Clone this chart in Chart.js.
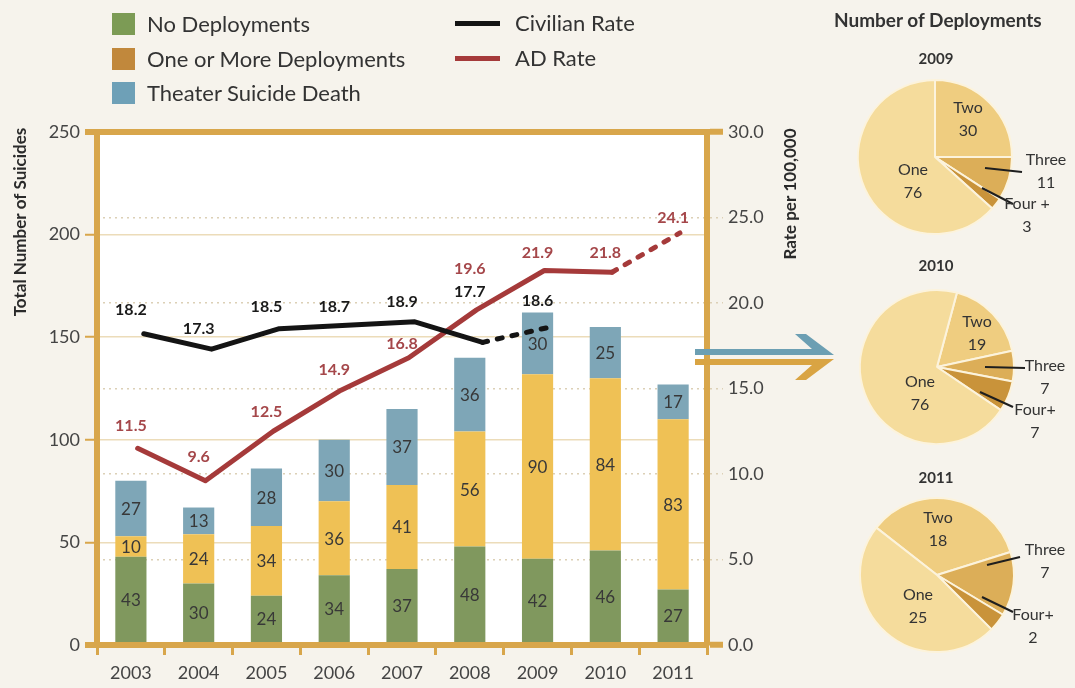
<!DOCTYPE html>
<html>
<head>
<meta charset="utf-8">
<script src="https://cdn.jsdelivr.net/npm/chart.js@4"></script>
<style>
  body { margin: 0; background: #f6f3ec; font-family: Lato, "Noto Sans", sans-serif; }
  #wrap { position: relative; width: 1075px; height: 688px; overflow: hidden; }
  #main { position: absolute; left: 0; top: 0; }
  .pie { position: absolute; }
  .txt { position: absolute; white-space: nowrap; color: #333; line-height: 24px; }
  .sq { position: absolute; width: 23px; height: 22px; }
  .ln { position: absolute; width: 45px; height: 5px; }
  .ttl { position: absolute; width: 200px; text-align: center; font-weight: bold; color: #333; white-space: nowrap; }
</style>
</head>
<body>
<div id="wrap">
  <canvas id="main" width="1075" height="688"></canvas>
  <canvas id="pie2009" class="pie" width="240" height="180" style="left:835px;top:67px"></canvas>
  <canvas id="pie2010" class="pie" width="240" height="180" style="left:837px;top:277px"></canvas>
  <canvas id="pie2011" class="pie" width="240" height="180" style="left:837px;top:485px"></canvas>
</div>
<script>
const years = ['2003', '2004', '2005', '2006', '2007', '2008', '2009', '2010', '2011'];
const noDeployments = [43, 30, 24, 34, 37, 48, 42, 46, 27];
const oneOrMore = [10, 24, 34, 36, 41, 56, 90, 84, 83];
const theaterDeaths = [27, 13, 28, 30, 37, 36, 30, 25, 17];
const civilianRate = [18.2, 17.3, 18.5, 18.7, 18.9, 17.7, 18.6];
const adRate = [11.5, 9.6, 12.5, 14.9, 16.8, 19.6, 21.9, 21.8, 24.1];
const countTicks = [0, 50, 100, 150, 200, 250];
const rateTicks = [0, 5, 10, 15, 20, 25, 30];

const barSeriesNames = ['No Deployments', 'One or More Deployments', 'Theater Suicide Death'];
const lineSeriesNames = ['Civilian Rate', 'AD Rate'];

const pieYears = ['2009', '2010', '2011'];
const pieLabels2009 = ['Two', 'Three', 'Four +', 'One'];
const pieLabels2010 = ['Two', 'Three', 'Four+', 'One'];
const pieLabels2011 = ['Two', 'Three', 'Four+', 'One'];
const deploys2009 = [30, 11, 3, 76];
const deploys2010 = [19, 7, 7, 76];
const deploys2011 = [18, 7, 2, 25];

const FONT = 'Lato, "Noto Sans", sans-serif';
const GOLD = '#d8a64b';
const GREEN = '#80985e';
const YELLOW = '#efc155';
const BLUE = '#7ea6b7';
const BLACK = '#141414';
const RED = '#a53a3a';
const DOT = '#dcd0b6';

// legend (html)
const wrap = document.getElementById('wrap');
function addEl(cls, style, text) {
  const d = document.createElement('div');
  d.className = cls;
  Object.assign(d.style, style);
  if (text) d.textContent = text;
  wrap.appendChild(d);
}
const legendSwatch = ['#7c9b55', '#c1883c', '#6ea0b7'];
barSeriesNames.forEach((name, i) => {
  const cy = 24 + i * 34.5;
  addEl('sq', {left: '112px', top: (cy - 11) + 'px', background: legendSwatch[i]});
  addEl('txt', {left: '147px', top: (cy - 12) + 'px', fontSize: '22px'}, name);
});
[BLACK, RED].forEach((c, i) => {
  const cy = 23 + i * 35;
  addEl('ln', {left: '455px', top: (cy - 2) + 'px', background: c});
  addEl('txt', {left: '515px', top: (cy - 12) + 'px', fontSize: '22px'}, lineSeriesNames[i]);
});
addEl('ttl', {left: '834px', top: '8px', fontSize: '19px'}, 'Number of Deployments');
[60, 267, 479].forEach((t, i) => {
  addEl('ttl', {left: '836px', top: (t - 11) + 'px', fontSize: '15px'}, pieYears[i]);
});

// label nudges for the rate lines (px above the point)
const civLabelDy = [-24, -20, -22, -18, -20, -50, -26];
const adLabelDy = [-23, -24, -19, -20, -14, -41, -18, -19, -15];

const isEdge = v => v === 0 || v === 250;
const isRateEdge = v => v === 0 || v === 30;

const mainPlugin = {
  id: 'mainDecor',
  beforeDraw(chart) {
    const {ctx, chartArea: a} = chart;
    ctx.save();
    ctx.fillStyle = '#ffffff';
    ctx.fillRect(a.left, a.top, a.right - a.left, a.bottom - a.top);
    ctx.restore();
  },
  afterDatasetsDraw(chart) {
    const {ctx, scales} = chart;
    ctx.save();
    ctx.textAlign = 'center';
    ctx.textBaseline = 'middle';
    // values inside bar segments
    ctx.font = '17px ' + FONT;
    ctx.fillStyle = '#383838';
    [2, 3, 4].forEach(di => {
      const meta = chart.getDatasetMeta(di);
      meta.data.forEach((bar, i) => {
        const p = bar.getProps(['x', 'y', 'base'], true);
        ctx.fillText(String(chart.data.datasets[di].data[i]), p.x, (p.y + p.base) / 2 + 1);
      });
    });
    // rate labels
    ctx.font = 'bold 16px ' + FONT;
    ctx.fillStyle = '#1a1a1a';
    civilianRate.forEach((v, i) => {
      ctx.fillText(v.toFixed(1), scales.x.getPixelForValue(i), scales.y2.getPixelForValue(v) + civLabelDy[i]);
    });
    ctx.fillStyle = '#a5474a';
    adRate.forEach((v, i) => {
      ctx.fillText(v.toFixed(1), scales.x.getPixelForValue(i), scales.y2.getPixelForValue(v) + adLabelDy[i]);
    });
    ctx.restore();
  },
  afterDraw(chart) {
    const {ctx} = chart;
    ctx.save();
    // axis titles, reading upward
    ctx.font = 'bold 17px ' + FONT;
    ctx.fillStyle = '#2a2a2a';
    ctx.textAlign = 'center';
    ctx.textBaseline = 'middle';
    [['Total Number of Suicides', 21, 222], ['Rate per 100,000', 791, 194]].forEach(([t, x, y]) => {
      ctx.save();
      ctx.translate(x, y);
      ctx.rotate(-Math.PI / 2);
      ctx.fillText(t, 0, 0);
      ctx.restore();
    });
    // split arrow pointing to the pies
    ctx.fillStyle = '#6c9fb3';
    ctx.beginPath();
    ctx.moveTo(695, 349); ctx.lineTo(812, 349); ctx.lineTo(795, 334); ctx.lineTo(806, 334);
    ctx.lineTo(834, 355); ctx.lineTo(695, 355); ctx.closePath(); ctx.fill();
    ctx.fillStyle = '#d9a443';
    ctx.beginPath();
    ctx.moveTo(695, 359); ctx.lineTo(834, 359); ctx.lineTo(806, 380); ctx.lineTo(795, 380);
    ctx.lineTo(812, 365); ctx.lineTo(695, 365); ctx.closePath(); ctx.fill();
    ctx.restore();
  }
};

const dashAfter = idx => ({
  borderDash: c => (c.p0DataIndex === idx ? [5, 10] : undefined)
});

new Chart(document.getElementById('main'), {
  type: 'bar',
  data: {
    labels: years,
    datasets: [
      {
        type: 'line', label: lineSeriesNames[0], order: 0,
        data: civilianRate.map((v, i) => ({x: i, y: v})),
        xAxisID: 'xc', yAxisID: 'y2',
        borderColor: BLACK, borderWidth: 5, pointRadius: 0,
        borderCapStyle: 'round', borderJoinStyle: 'round',
        segment: dashAfter(5)
      },
      {
        type: 'line', label: lineSeriesNames[1], order: 0,
        data: adRate.map((v, i) => ({x: i, y: v})),
        xAxisID: 'xa', yAxisID: 'y2',
        borderColor: RED, borderWidth: 5, pointRadius: 0,
        borderCapStyle: 'round', borderJoinStyle: 'round',
        segment: dashAfter(7)
      },
      {label: barSeriesNames[0], data: noDeployments, backgroundColor: GREEN, order: 1, xAxisID: 'x'},
      {label: barSeriesNames[1], data: oneOrMore, backgroundColor: YELLOW, order: 1, xAxisID: 'x'},
      {label: barSeriesNames[2], data: theaterDeaths, backgroundColor: BLUE, order: 1, xAxisID: 'x'}
    ]
  },
  options: {
    responsive: false,
    animation: false,
    datasets: {bar: {grouped: false, barPercentage: 0.46, categoryPercentage: 1}},
    layout: {padding: {top: 132, left: 0, right: 268, bottom: 0}},
    plugins: {legend: {display: false}, tooltip: {enabled: false}},
    scales: {
      x: {
        stacked: true,
        grid: {drawOnChartArea: false, tickLength: 10, color: GOLD, lineWidth: 3},
        border: {color: GOLD, width: 6},
        ticks: {font: {family: FONT, size: 18}, color: '#444', padding: 7},
        afterFit: s => { s.height = 43; }
      },
      xc: {type: 'linear', display: false, offset: false, grid: {offset: false}, min: -0.69, max: 8.31},
      xa: {type: 'linear', display: false, offset: false, grid: {offset: false}, min: -0.6, max: 8.4},
      y: {
        stacked: true, min: 0, max: 250,
        afterBuildTicks: s => { s.ticks = countTicks.map(v => ({value: v})); },
        grid: {
          color: c => (isEdge(c.tick.value) ? GOLD : '#ecdcb9'),
          lineWidth: c => (isEdge(c.tick.value) ? 6 : 1.5),
          tickLength: 12,
          tickColor: GOLD,
          tickWidth: c => (isEdge(c.tick.value) ? 6 : 2)
        },
        border: {color: GOLD, width: 6},
        ticks: {font: {family: FONT, size: 18}, color: '#444', padding: 5},
        afterFit: s => { s.width = 97; }
      },
      y2: {
        position: 'right', min: 0, max: 30,
        afterBuildTicks: s => { s.ticks = rateTicks.map(v => ({value: v})); },
        grid: {
          color: c => (isRateEdge(c.tick.value) ? 'rgba(0,0,0,0)' : DOT),
          lineWidth: 1.5,
          tickLength: 16,
          tickColor: c => (isRateEdge(c.tick.value) ? GOLD : DOT),
          tickWidth: c => (isRateEdge(c.tick.value) ? 6 : 1.5),
          tickBorderDash: c => (isRateEdge(c.tick.value) ? [] : [2, 4])
        },
        border: {color: GOLD, width: 6, dash: c => (c.tick && !isRateEdge(c.tick.value) ? [2, 4] : [])},
        ticks: {font: {family: FONT, size: 18}, color: '#444', padding: 5, callback: v => v.toFixed(1)},
        afterFit: s => { s.width = 100; }
      }
    }
  },
  plugins: [mainPlugin]
});

// pies: label positions are offsets from the pie centre
const pieLayouts = [
  {rotation: 0, labels: pieLabels2009, data: deploys2009,
   text: [[33, -49], [111, 3], [92, 47], [-22, 13]],
   leaders: [null, [50, 11, 87, 15], [47, 31, 78, 47], null]},
  {rotation: 15, labels: pieLabels2010, data: deploys2010,
   text: [[40, -45], [108, -1], [98, 43], [-17, 15]],
   leaders: [null, [48, 0, 88, 1], [43, 25, 76, 40], null]},
  {rotation: -52, labels: pieLabels2011, data: deploys2011,
   text: [[1, -57], [108, -25], [96, 40], [-19, 20]],
   leaders: [null, [50, -10, 83, -18], [45, 22, 76, 37], null]}
];

const pieLabelPlugin = {
  id: 'pieLabels',
  afterDatasetsDraw(chart, args, opts) {
    const {ctx} = chart;
    const arc = chart.getDatasetMeta(0).data[0];
    const cx = arc.x, cy = arc.y;
    const lay = opts.layout;
    ctx.save();
    ctx.strokeStyle = '#1e1e1e';
    ctx.lineWidth = 2;
    lay.leaders.forEach(l => {
      if (!l) return;
      ctx.beginPath();
      ctx.moveTo(cx + l[0], cy + l[1]);
      ctx.lineTo(cx + l[2], cy + l[3]);
      ctx.stroke();
    });
    ctx.font = '16px ' + FONT;
    ctx.fillStyle = '#333';
    ctx.textAlign = 'center';
    ctx.textBaseline = 'middle';
    lay.text.forEach((t, i) => {
      ctx.fillText(lay.labels[i], cx + t[0], cy + t[1]);
      ctx.fillText(String(lay.data[i]), cx + t[0], cy + t[1] + 23);
    });
    ctx.restore();
  }
};

['pie2009', 'pie2010', 'pie2011'].forEach((id, k) => {
  const lay = pieLayouts[k];
  new Chart(document.getElementById(id), {
    type: 'pie',
    data: {
      labels: lay.labels,
      datasets: [{
        data: lay.data,
        backgroundColor: ['#efcd80', '#dcae58', '#c9933a', '#f5dc9c'],
        borderColor: '#fcf3dc',
        borderWidth: 2
      }]
    },
    options: {
      responsive: false,
      animation: false,
      rotation: lay.rotation,
      layout: {padding: {left: 22, right: 62, top: 12, bottom: 12}},
      plugins: {legend: {display: false}, tooltip: {enabled: false}, pieLabels: {layout: lay}}
    },
    plugins: [pieLabelPlugin]
  });
});
</script>
</body>
</html>
